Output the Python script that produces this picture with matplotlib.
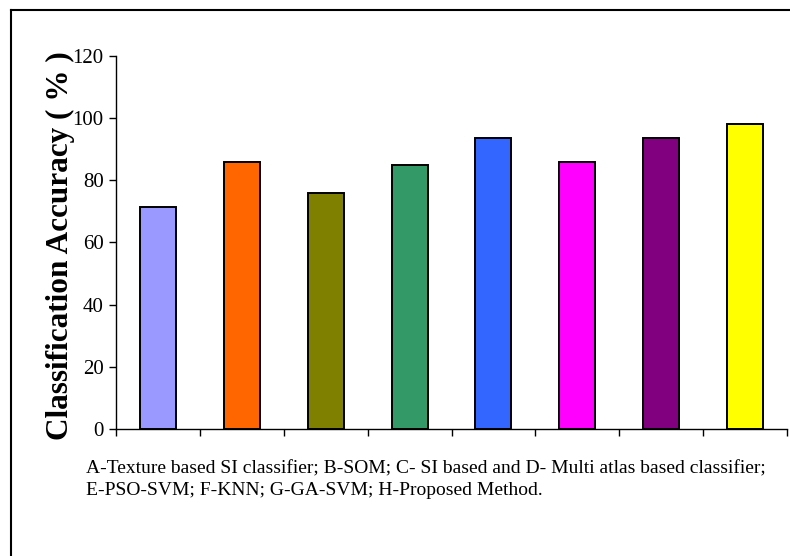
import numpy as np
import matplotlib
matplotlib.use('Agg')
import matplotlib.pyplot as plt
from matplotlib.lines import Line2D

# Data
methods = ['A', 'B', 'C', 'D', 'E', 'F', 'G', 'H']
accuracy = [71.5, 85.8, 75.9, 84.9, 93.7, 85.8, 93.7, 98.2]
colors = ['#9999FF', '#FF6600', '#808000', '#339966',
          '#3366FF', '#FF00FF', '#800080', '#FFFF00']
yticks = [0, 20, 40, 60, 80, 100, 120]

caption = ("A-Texture based SI classifier; B-SOM; C- SI based and D- Multi atlas based classifier;\n"
           "E-PSO-SVM; F-KNN; G-GA-SVM; H-Proposed Method.")

plt.rcParams['font.family'] = ['Liberation Serif', 'DejaVu Serif']

fig = plt.figure(figsize=(7.9, 5.56), dpi=100)
ax = fig.add_axes([116/790, 1 - 429/556, (787 - 116)/790, (429 - 56)/556])

x = np.arange(len(methods))
ax.bar(x, accuracy, width=0.43, color=colors, edgecolor='black', linewidth=1.4, zorder=3)

ax.set_xlim(-0.5, len(methods) - 0.5)
ax.set_ylim(0, 120)
ax.set_yticks(yticks)
ax.set_yticklabels([str(v) for v in yticks], fontsize=15)
ax.set_xticks(np.arange(len(methods) + 1) - 0.5)
ax.set_xticklabels([])
ax.tick_params(axis='both', direction='out', length=5, width=1, color='black')
ax.tick_params(axis='y', pad=4)
ax.spines['top'].set_visible(False)
ax.spines['right'].set_visible(False)
ax.spines['left'].set_linewidth(1)
ax.spines['bottom'].set_linewidth(1)

fig.text(60/790, 1 - 246/556, 'Classification Accuracy ( % )',
         rotation=90, ha='center', va='center', fontsize=22.5, fontweight='bold')

fig.text(86/790, 1 - 460/556, caption, ha='left', va='top', fontsize=14,
         linespacing=1.35)

# outer frame
fig.add_artist(Line2D([11/790, 1], [1 - 10/556, 1 - 10/556], color='black', linewidth=1.5))
fig.add_artist(Line2D([11/790, 11/790], [0, 1 - 10/556], color='black', linewidth=1.5))

fig.savefig('out.png', dpi=100)
